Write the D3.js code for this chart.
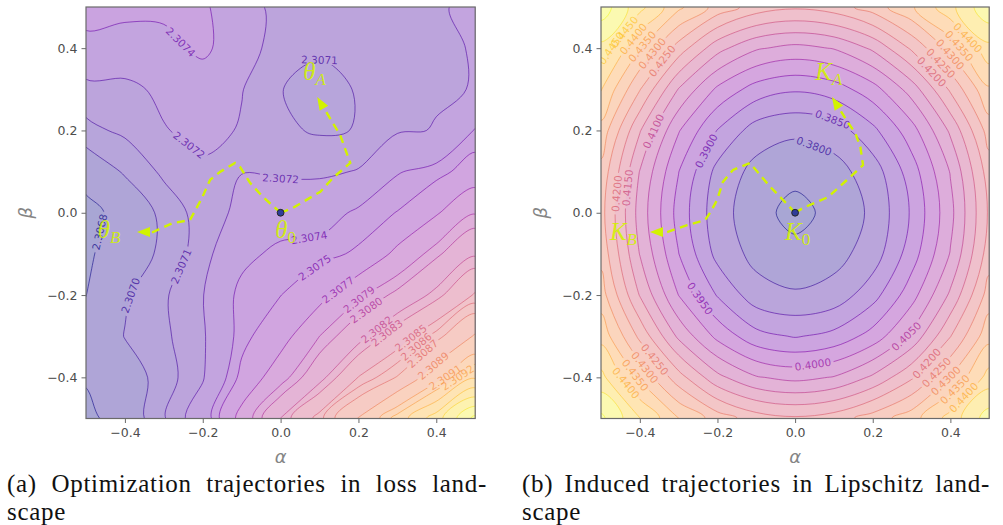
<!DOCTYPE html>
<html>
<head>
<meta charset="utf-8">
<script src="https://cdn.jsdelivr.net/npm/d3@7/dist/d3.min.js"></script>
<style>
  html, body { margin: 0; padding: 0; background: #ffffff; }
  svg { display: block; }
</style>
</head>
<body>
<svg id="fig" width="1003" height="525" xmlns="http://www.w3.org/2000/svg"></svg>
<script>
// ---------- sampling grid ----------
const gridAlpha = [-0.5, -0.4, -0.3, -0.2, -0.1, 0.0, 0.1, 0.2, 0.3, 0.4, 0.5];
const gridBeta  = [0.5, 0.4, 0.3, 0.2, 0.1, 0.0, -0.1, -0.2, -0.3, -0.4, -0.5];

// ---------- (a) loss landscape: rows = beta (top to bottom), cols = alpha ----------
const lossGrid = [
  [2.30748, 2.30746, 2.30744, 2.30743, 2.30727, 2.30715, 2.307135, 2.30713, 2.30715, 2.307185, 2.30723],
  [2.30734, 2.30730, 2.307345, 2.30744, 2.30728, 2.307125, 2.30711, 2.30713, 2.30716, 2.307185, 2.307205],
  [2.307155, 2.307165, 2.30723, 2.30729, 2.307205, 2.307102, 2.307075, 2.307105, 2.30715, 2.30719, 2.307203],
  [2.307075, 2.307119, 2.307192, 2.30724, 2.30719, 2.307115, 2.30709, 2.307103, 2.307185, 2.307205, 2.30741],
  [2.30689, 2.307016, 2.30712, 2.307175, 2.307198, 2.30718, 2.307175, 2.307208, 2.30739, 2.30745, 2.30758],
  [2.30673, 2.30688, 2.307037, 2.307144, 2.307229, 2.30730, 2.30732, 2.30743, 2.307505, 2.30768, 2.30789],
  [2.30677, 2.306904, 2.307033, 2.307148, 2.30735, 2.307445, 2.30746, 2.30752, 2.30775, 2.30797, 2.30818],
  [2.306798, 2.306985, 2.307086, 2.307194, 2.30745, 2.307497, 2.30763, 2.30787, 2.30804, 2.30825, 2.30852],
  [2.30686, 2.307005, 2.30708, 2.30718, 2.307456, 2.307615, 2.30790, 2.30813, 2.30840, 2.30865, 2.30892],
  [2.30682, 2.30693, 2.30705, 2.307187, 2.30754, 2.30783, 2.30814, 2.308505, 2.30871, 2.30903, 2.30933],
  [2.30674, 2.30691, 2.30709, 2.30729, 2.30778, 2.308204, 2.308565, 2.30891, 2.30926, 2.30958, 2.31000]
];
const lossLevels = [2.3068, 2.3070, 2.3071, 2.3072, 2.3074, 2.3075, 2.3077, 2.3079, 2.3080,
                    2.3082, 2.3083, 2.3085, 2.3086, 2.3087, 2.3089, 2.3091, 2.3092];
const lossExtraLevels = [2.30935, 2.3095, 2.30965, 2.3098, 2.30995];
// manual clabel positions [level, alpha, beta]
const lossLabelAt = [
  [2.3068, -0.465, -0.047], [2.3070, -0.392, -0.200], [2.3071, -0.251, -0.132],
  [2.3071, 0.102, 0.396], [2.3072, -0.251, 0.145], [2.3072, 0.000, 0.072],
  [2.3074, -0.251, 0.420], [2.3074, 0.071, -0.042], [2.3075, 0.097, -0.144],
  [2.3077, 0.148, -0.188], [2.3079, 0.199, -0.207], [2.3080, 0.225, -0.243],
  [2.3082, 0.248, -0.285], [2.3083, 0.282, -0.302], [2.3085, 0.328, -0.297],
  [2.3086, 0.351, -0.328], [2.3087, 0.372, -0.350], [2.3089, 0.397, -0.377],
  [2.3091, 0.423, -0.399], [2.3092, 0.454, -0.399]
];
const lossPathA = [[0, 0], [0.032, 0.012], [0.102, 0.051], [0.135, 0.085], [0.179, 0.121],
                   [0.153, 0.189], [0.094, 0.281]];
const lossPathB = [[0, 0], [-0.045, 0.038], [-0.078, 0.072], [-0.104, 0.111], [-0.117, 0.121],
                   [-0.156, 0.099], [-0.181, 0.080], [-0.202, 0.036], [-0.233, -0.018],
                   [-0.277, -0.025], [-0.328, -0.047], [-0.369, -0.047]];
const lossNames = [["θ", "A", 0.058, 0.323], ["θ", "0", -0.014, -0.061], ["θ", "B", -0.470, -0.061]];

// ---------- (b) Lipschitz landscape ----------
const lipGrid = [
  [0.4582, 0.4465, 0.4361, 0.4281, 0.4227, 0.4208, 0.4225, 0.4273, 0.4343, 0.4435, 0.4542],
  [0.4485, 0.4352, 0.4228, 0.4118, 0.4056, 0.4035, 0.4053, 0.4109, 0.4208, 0.4317, 0.4435],
  [0.4403, 0.4253, 0.4097, 0.3990, 0.3928, 0.3906, 0.3925, 0.3979, 0.4072, 0.4208, 0.4343],
  [0.4333, 0.4154, 0.4004, 0.3898, 0.3826, 0.3808, 0.3823, 0.3887, 0.3979, 0.4109, 0.4273],
  [0.4285, 0.4098, 0.3951, 0.3834, 0.3784, 0.3770, 0.3782, 0.3823, 0.3925, 0.4053, 0.4225],
  [0.4268, 0.4080, 0.3931, 0.3819, 0.3773, 0.3728, 0.3770, 0.3808, 0.3906, 0.4035, 0.4208],
  [0.4285, 0.4098, 0.3951, 0.3834, 0.3784, 0.3770, 0.3782, 0.3823, 0.3925, 0.4053, 0.4225],
  [0.4323, 0.4147, 0.3999, 0.3896, 0.3821, 0.3805, 0.3819, 0.3880, 0.3979, 0.4109, 0.4273],
  [0.4383, 0.4238, 0.4089, 0.3986, 0.3917, 0.3896, 0.3915, 0.3970, 0.4062, 0.4198, 0.4333],
  [0.4465, 0.4340, 0.4221, 0.4114, 0.4054, 0.4035, 0.4053, 0.4109, 0.4193, 0.4302, 0.4420],
  [0.4562, 0.4452, 0.4351, 0.4276, 0.4225, 0.4208, 0.4225, 0.4273, 0.4328, 0.4420, 0.4527]
];
const lipLevels = [0.375, 0.380, 0.385, 0.390, 0.395, 0.400, 0.405, 0.410, 0.415,
                   0.420, 0.425, 0.430, 0.435, 0.440, 0.445, 0.450, 0.455];
const lipLabelAt = [
  [0.380, 0.052, 0.170], [0.385, 0.098, 0.233], [0.390, -0.232, 0.152],
  [0.395, -0.250, -0.212], [0.400, 0.046, -0.370], [0.405, 0.284, -0.297],
  [0.410, -0.374, 0.201], [0.415, -0.446, 0.062], [0.420, -0.477, 0.048],
  [0.425, -0.40, 0.41], [0.430, -0.40, 0.41], [0.435, -0.40, 0.41], [0.440, -0.40, 0.41], [0.445, -0.40, 0.41],
  [0.420, 0.412, 0.396], [0.425, 0.412, 0.396], [0.430, 0.412, 0.396], [0.435, 0.412, 0.396], [0.440, 0.412, 0.396],
  [0.425, -0.412, -0.395], [0.430, -0.412, -0.395], [0.435, -0.412, -0.395], [0.440, -0.412, -0.395], [0.445, -0.412, -0.395],
  [0.420, 0.387, -0.407], [0.425, 0.387, -0.407], [0.430, 0.387, -0.407], [0.435, 0.387, -0.407], [0.440, 0.387, -0.407]
];
const lipPathA = [[0, 0], [0.021, 0.012], [0.085, 0.038], [0.142, 0.087], [0.175, 0.116],
                  [0.168, 0.160], [0.155, 0.194], [0.137, 0.218], [0.095, 0.281]];
const lipPathB = [[0, 0], [-0.031, 0.031], [-0.064, 0.063], [-0.095, 0.097], [-0.116, 0.121],
                  [-0.160, 0.104], [-0.186, 0.075], [-0.201, 0.031], [-0.219, 0.0],
                  [-0.232, -0.018], [-0.278, -0.030], [-0.330, -0.047], [-0.374, -0.047]];
const lipNames = [["K", "A", 0.052, 0.323], ["K", "0", -0.026, -0.066], ["K", "B", -0.477, -0.066]];

// ---------- axes / captions ----------
const tickValues = [-0.4, -0.2, 0.0, 0.2, 0.4];
const tickLabels = ["−0.4", "−0.2", "0.0", "0.2", "0.4"];
const captionA = [["(a)", "Optimization", "trajectories", "in", "loss", "land-"], ["scape"]];
const captionB = [["(b)", "Induced", "trajectories", "in", "Lipschitz", "land-"], ["scape"]];

// ---------- drawing ----------
const svg = d3.select("#fig");
const defs = svg.append("defs");
const TRAJ = "#d2f200";
const FILL_ALPHA = 0.36;
let uid = 0;

function washed(c, a) {
  const k = d3.rgb(c);
  return d3.rgb(255 + (k.r - 255) * a, 255 + (k.g - 255) * a, 255 + (k.b - 255) * a).formatHex();
}

function drawPanel(cfg) {
  const box = cfg.box;
  const xs = d3.scaleLinear().domain([-0.5, 0.5]).range([box.x0, box.x1]);
  const ys = d3.scaleLinear().domain([-0.5, 0.5]).range([box.y1, box.y0]);
  const nx = gridAlpha.length, ny = gridBeta.length;
  const a0 = gridAlpha[0], da = gridAlpha[1] - gridAlpha[0];
  const b0 = gridBeta[0], db = gridBeta[1] - gridBeta[0];
  const toPx = (cx, cy) => [xs(a0 + (cx - 0.5) * da), ys(b0 + (cy - 0.5) * db)];

  // contour rings drawn as centripetal Catmull-Rom curves; grid-border vertices kept sharp
  const curve = d3.line().curve(d3.curveCatmullRomClosed.alpha(0.5));
  const ringPath = ring => {
    const pts = [];
    for (let i = 0; i < ring.length - 1; i++) {
      const p = ring[i], q = toPx(p[0], p[1]);
      pts.push(q);
      if (p[0] <= 0 || p[0] >= nx || p[1] <= 0 || p[1] >= ny) { pts.push(q); pts.push(q); }
    }
    return curve(pts);
  };
  const contourPath = c => c.coordinates.map(poly => poly.map(ringPath).join("")).join("");

  const levels = cfg.levels.slice().sort((a, b) => a - b);
  const lo = levels[0], hi = levels[levels.length - 1];
  const norm = v => Math.max(0, Math.min(1, (v - lo) / (hi - lo)));
  const contours = d3.contours().size([nx, ny]).thresholds(levels)(cfg.grid.flat());

  const clipId = "clip" + (uid++);
  defs.append("clipPath").attr("id", clipId).append("rect")
    .attr("x", box.x0).attr("y", box.y0).attr("width", box.x1 - box.x0).attr("height", box.y1 - box.y0);

  const g = svg.append("g");
  const plot = g.append("g").attr("clip-path", `url(#${clipId})`);

  // filled bands
  plot.append("rect").attr("x", box.x0).attr("y", box.y0)
    .attr("width", box.x1 - box.x0).attr("height", box.y1 - box.y0)
    .attr("fill", washed(d3.interpolatePlasma(0), FILL_ALPHA));
  contours.forEach((c, k) => {
    const t = k < levels.length - 1 ? norm((levels[k] + levels[k + 1]) / 2) : 1;
    const col = washed(d3.interpolatePlasma(t), FILL_ALPHA);
    plot.append("path").attr("d", contourPath(c)).attr("fill-rule", "evenodd")
      .attr("fill", col).attr("stroke", col).attr("stroke-width", 0.3);
  });

  // label placement on the contour lines
  const inside = p => p[0] > box.x0 + 1 && p[0] < box.x1 - 1 && p[1] > box.y0 + 1 && p[1] < box.y1 - 1;
  function place(c, hx, hy) {
    let best = null;
    c.coordinates.forEach(poly => poly.forEach(ring => {
      const pts = ring.map(p => toPx(p[0], p[1]));
      const cum = [0];
      for (let i = 1; i < pts.length; i++) cum.push(cum[i - 1] + Math.hypot(pts[i][0] - pts[i - 1][0], pts[i][1] - pts[i - 1][1]));
      for (let i = 1; i < pts.length; i++) {
        const a = pts[i - 1], b = pts[i];
        if (!inside(a) || !inside(b)) continue;
        const dx = b[0] - a[0], dy = b[1] - a[1], L2 = dx * dx + dy * dy;
        if (!L2) continue;
        let t = ((hx - a[0]) * dx + (hy - a[1]) * dy) / L2;
        t = Math.max(0, Math.min(1, t));
        const px = a[0] + t * dx, py = a[1] + t * dy, d = Math.hypot(px - hx, py - hy);
        if (!best || d < best.d) best = { d, px, py, pts, cum, s: cum[i - 1] + t * Math.sqrt(L2) };
      }
    }));
    if (!best) return null;
    const total = best.cum[best.cum.length - 1];
    const at = s => {
      s = ((s % total) + total) % total;
      let i = d3.bisectLeft(best.cum, s); if (i < 1) i = 1;
      const a = best.pts[i - 1], b = best.pts[i], seg = best.cum[i] - best.cum[i - 1];
      const t = seg ? (s - best.cum[i - 1]) / seg : 0;
      return [a[0] + t * (b[0] - a[0]), a[1] + t * (b[1] - a[1])];
    };
    const p1 = at(best.s - 12), p2 = at(best.s + 12);
    let ang = Math.atan2(p2[1] - p1[1], p2[0] - p1[0]) * 180 / Math.PI;
    if (ang > 90) ang -= 180;
    if (ang < -90) ang += 180;
    return { x: best.px, y: best.py, angle: ang };
  }

  const lineG = plot.append("g");
  const labelG = plot.append("g").attr("font-family", "'DejaVu Sans', sans-serif").attr("font-size", 10.5);
  contours.forEach((c, k) => {
    const col = d3.interpolatePlasma(norm(levels[k]));
    const hints = cfg.labelAt.filter(h => Math.abs(h[0] - levels[k]) < 1e-9);
    const path = lineG.append("path").attr("d", contourPath(c)).attr("fill", "none")
      .attr("stroke", col).attr("stroke-opacity", 0.62).attr("stroke-width", 0.95);
    if (!hints.length) return;
    const maskId = "mask" + (uid++);
    const mask = defs.append("mask").attr("id", maskId).attr("maskUnits", "userSpaceOnUse")
      .attr("x", 0).attr("y", 0).attr("width", 1003).attr("height", 525);
    mask.append("rect").attr("x", 0).attr("y", 0).attr("width", 1003).attr("height", 525).attr("fill", "#fff");
    path.attr("mask", `url(#${maskId})`);
    hints.forEach(h => {
      const p = place(c, xs(h[1]), ys(h[2]));
      if (!p) return;
      const tr = `translate(${p.x},${p.y}) rotate(${p.angle})`;
      const txt = labelG.append("text").attr("transform", tr).attr("text-anchor", "middle")
        .attr("dy", "0.36em").attr("fill", col).attr("fill-opacity", 0.72).text(levels[k].toFixed(4));
      const w = txt.node().getComputedTextLength() + 5;
      mask.append("rect").attr("transform", tr).attr("x", -w / 2).attr("y", -5).attr("width", w).attr("height", 10).attr("fill", "#000");
    });
  });

  // trajectories
  const line = d3.line().x(d => xs(d[0])).y(d => ys(d[1]));
  const trajG = g.append("g");
  cfg.paths.forEach(pts => {
    const px = pts.map(d => [xs(d[0]), ys(d[1])]);
    const tip = px[px.length - 1], prev = px[px.length - 2];
    const L = Math.hypot(tip[0] - prev[0], tip[1] - prev[1]);
    const ux = (tip[0] - prev[0]) / L, uy = (tip[1] - prev[1]) / L;
    const hl = 13, hw = 10;
    const base = [tip[0] - ux * hl, tip[1] - uy * hl];
    const body = pts.slice(0, -1).concat([[xs.invert(base[0]), ys.invert(base[1])]]);
    trajG.append("path").attr("d", line(body)).attr("fill", "none").attr("stroke", TRAJ)
      .attr("stroke-width", 2.4).attr("stroke-dasharray", "8,5.5");
    trajG.append("path")
      .attr("d", `M${tip[0]},${tip[1]}L${base[0] - uy * hw / 2},${base[1] + ux * hw / 2}L${base[0] + uy * hw / 2},${base[1] - ux * hw / 2}Z`)
      .attr("fill", TRAJ);
  });
  // starting point
  trajG.append("circle").attr("cx", xs(0)).attr("cy", ys(0)).attr("r", 3.4)
    .attr("fill", "#2f3c9a").attr("stroke", "#262626").attr("stroke-width", 1);

  // point names
  cfg.names.forEach(nm => {
    const t = g.append("text").attr("x", xs(nm[2])).attr("y", ys(nm[3]))
      .attr("font-family", "'Liberation Serif', 'DejaVu Serif', serif").attr("fill", TRAJ).attr("fill-opacity", 0.9);
    t.append("tspan").attr("font-size", 25).attr("font-style", "italic").text(nm[0]);
    t.append("tspan").attr("font-size", 17).attr("dy", 5)
      .attr("font-style", nm[1] === "0" ? "normal" : "italic").text(nm[1]);
  });

  // frame
  g.append("rect").attr("x", box.x0).attr("y", box.y0).attr("width", box.x1 - box.x0).attr("height", box.y1 - box.y0)
    .attr("fill", "none").attr("stroke", "#6a6a6a").attr("stroke-width", 1.2);

  // axes
  const styleAxis = ax => {
    ax.select(".domain").remove();
    ax.attr("font-family", "'DejaVu Sans', sans-serif").attr("font-size", 12.5);
    ax.selectAll("line").attr("stroke", "#6a6a6a").attr("stroke-width", 1);
    ax.selectAll("text").attr("fill", "#4d4d4d");
  };
  const fmt = (d, i) => tickLabels[i];
  g.append("g").attr("transform", `translate(0,${box.y1})`)
    .call(d3.axisBottom(xs).tickValues(tickValues).tickFormat(fmt).tickSize(4.5).tickPadding(5.5).tickSizeOuter(0))
    .call(styleAxis);
  g.append("g").attr("transform", `translate(${box.x0},0)`)
    .call(d3.axisLeft(ys).tickValues(tickValues).tickFormat(fmt).tickSize(4.5).tickPadding(4).tickSizeOuter(0))
    .call(styleAxis);

  g.append("text").attr("x", (box.x0 + box.x1) / 2).attr("y", 463).attr("text-anchor", "middle")
    .attr("font-family", "'DejaVu Sans', sans-serif").attr("font-style", "italic").attr("font-size", 18)
    .attr("fill", "#858585").text("α");
  g.append("text").attr("transform", `translate(${box.x0 - 54},${(box.y0 + box.y1) / 2}) rotate(-90)`)
    .attr("text-anchor", "middle")
    .attr("font-family", "'DejaVu Sans', sans-serif").attr("font-style", "italic").attr("font-size", 18)
    .attr("fill", "#858585").text("β");

  // caption (first line justified)
  const capG = g.append("g").attr("font-family", "'Liberation Serif', 'Times New Roman', serif")
    .attr("font-size", 25).attr("fill", "#111111").attr("letter-spacing", "0.7px");
  cfg.caption.forEach((words, li) => {
    const y = li === 0 ? 492 : 520;
    const t = words.map(w => capG.append("text").attr("y", y).text(w));
    if (li === 0) {
      const ws = t.map(n => n.node().getComputedTextLength());
      const gap = (cfg.capX1 - cfg.capX0 - d3.sum(ws)) / (words.length - 1);
      let x = cfg.capX0;
      t.forEach((n, i) => { n.attr("x", x); x += ws[i] + gap; });
    } else {
      t[0].attr("x", cfg.capX0);
    }
  });
}

drawPanel({
  grid: lossGrid, levels: lossLevels.concat(lossExtraLevels), labelAt: lossLabelAt,
  box: { x0: 86, x1: 475.2, y0: 7, y1: 418.5 },
  paths: [lossPathA, lossPathB], names: lossNames,
  caption: captionA, capX0: 7, capX1: 487
});
drawPanel({
  grid: lipGrid, levels: lipLevels, labelAt: lipLabelAt,
  box: { x0: 601, x1: 989.2, y0: 7, y1: 418.5 },
  paths: [lipPathA, lipPathB], names: lipNames,
  caption: captionB, capX0: 522, capX1: 990
});
</script>
</body>
</html>
